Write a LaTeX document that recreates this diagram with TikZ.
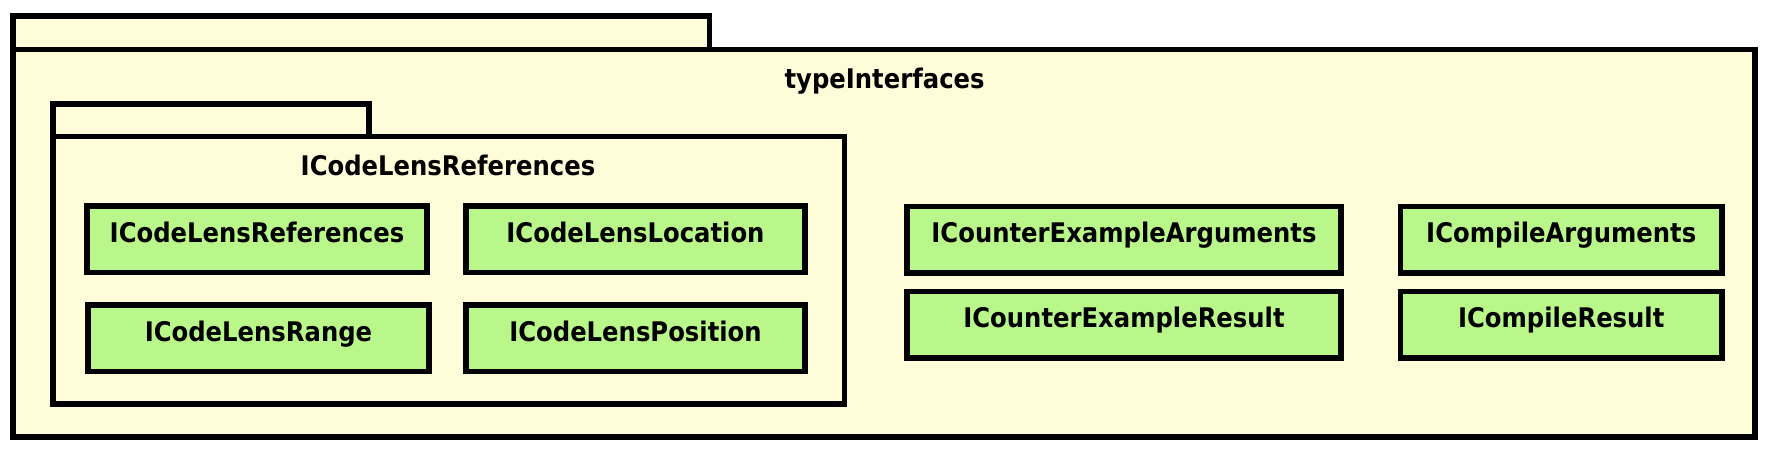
\documentclass[tikz,border=0pt]{standalone}
\usepackage{fontspec}
\setmainfont{DejaVu Sans}
\newfontfamily\umlfont[FakeStretch=0.9]{DejaVu Sans}
\definecolor{pkgfill}{RGB}{255,252,218}
\definecolor{clsfill}{RGB}{186,247,138}
\begin{document}
\begin{tikzpicture}[x=1pt,y=-1pt,
  pkg/.style={draw=black, fill=pkgfill, line width=5.5pt, inner sep=0pt},
  cls/.style={draw=black, fill=clsfill, line width=5.5pt, inner sep=0pt,
    minimum height=66.5pt, text height=20pt, text depth=14pt,
    font=\umlfont\bfseries\fontsize{27}{30}\selectfont},
  lbl/.style={anchor=base, inner sep=0pt, font=\umlfont\bfseries\fontsize{27}{30}\selectfont}]
\useasboundingbox (0,0) rectangle (1772,452);
% outer package
\node[pkg, minimum width=696.7pt, minimum height=33.3pt] (outertab) at (361.15,32.85) {};
\node[pkg, minimum width=1742.2pt, minimum height=387.5pt] (outer) at (883.9,243.25) {};
\node[lbl] (outerlbl) at (884.6,88.3) {typeInterfaces};
% inner package
\node[pkg, minimum width=316.2pt, minimum height=32.7pt] (innertab) at (210.9,120.35) {};
\node[pkg, minimum width=791.7pt, minimum height=267.3pt] (inner) at (448.65,270.35) {};
\node[lbl] (innerlbl) at (448,175) {ICodeLensReferences};
% classes
\node[cls, minimum width=340pt] (a) at (257,239.4) {ICodeLensReferences};
\node[cls, minimum width=339pt] (b) at (635.5,239.4) {ICodeLensLocation};
\node[cls, minimum width=341pt] (c) at (258.5,338) {ICodeLensRange};
\node[cls, minimum width=339pt] (d) at (635.5,338) {ICodeLensPosition};
\node[cls, minimum width=434pt] (e) at (1124,239.5) {ICounterExampleArguments};
\node[cls, minimum width=321.5pt] (f) at (1561.25,239.5) {ICompileArguments};
\node[cls, minimum width=434pt] (g) at (1124,324.5) {ICounterExampleResult};
\node[cls, minimum width=321.5pt] (h) at (1561.25,324.5) {ICompileResult};
\end{tikzpicture}
\end{document}
